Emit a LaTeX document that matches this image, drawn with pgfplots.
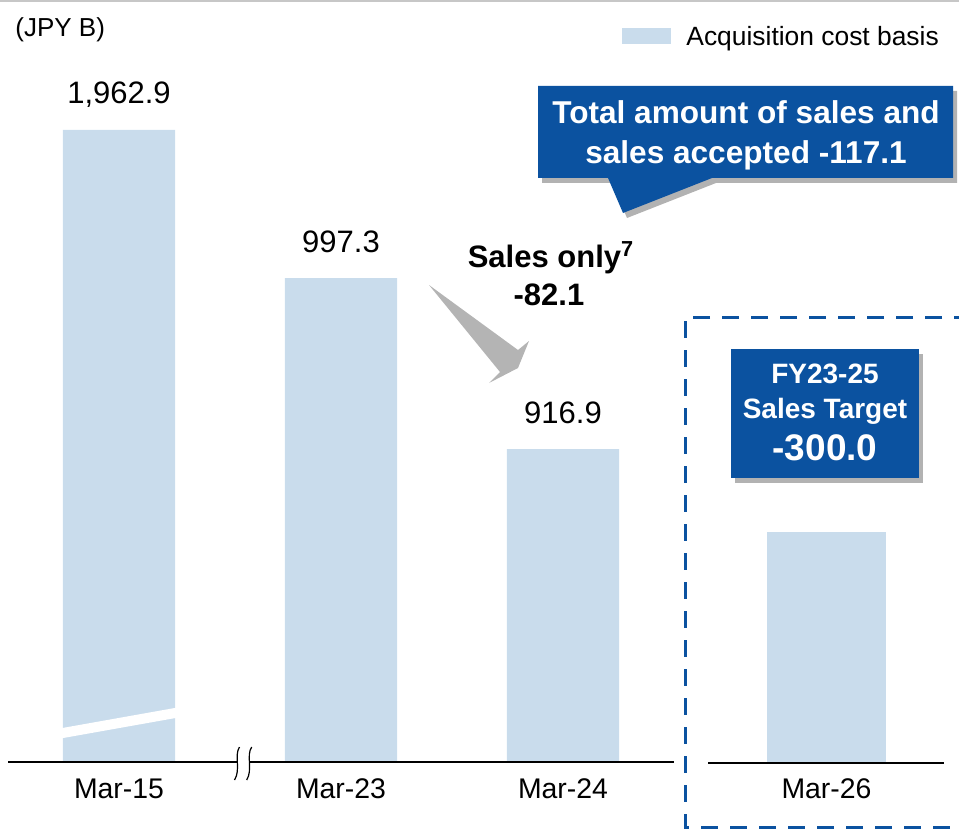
\documentclass[border=0pt]{standalone}
\usepackage{fontspec}
\setmainfont{Liberation Sans}
\usepackage{pgfplots}
\pgfplotsset{compat=1.18}
\usepackage{pgfplotstable}
\definecolor{barfill}{HTML}{C9DCEC}
\definecolor{navy}{HTML}{0B52A0}
\definecolor{arrowgray}{HTML}{B4B4B4}

% bars as drawn (Mar-15 bar is cut by an axis break)
\pgfplotstableread{
x y label
0 1066.9 1,962.9
1 997.3 997.3
2 916.9 916.9
}\actual
\pgfplotstableread{
x y
3.187 877.9
}\target

\begin{document}
\begin{tikzpicture}
\useasboundingbox (0,0) rectangle (479.5pt,-414.5pt);
\begin{axis}[
  at={(4pt,-381pt)}, anchor=south west,
  scale only axis, width=468.5pt, height=351pt,
  xmin=-0.5, xmax=3.7207, ymin=769.74, ymax=1099.8,
  axis line style={draw=none},
  ytick=\empty,
  xtick={0,1,2,3.187},
  xticklabels={Mar-15,Mar-23,Mar-24,Mar-26},
  major tick length=0pt,
  xticklabel style={anchor=base, yshift=-18pt, font=\fontsize{14.2pt}{16pt}\selectfont},
  legend image code/.code={\fill[barfill] (0pt,-3pt) rectangle (24.5pt,5pt);},
  legend style={draw=none, fill=none, at={(axis description cs:0.6553,1.032)}, anchor=west,
    inner sep=0pt, nodes={inner sep=0pt, font=\fontsize{13.2pt}{15pt}\selectfont},
    /tikz/every odd column/.append style={column sep=7.5pt}},
]
\addplot[ybar, bar width=0.505, bar shift=0pt, fill=barfill, draw=none,
  nodes near coords, point meta=explicit symbolic,
  nodes near coords style={anchor=base, yshift=13pt, inner sep=0pt,
    font=\fontsize{15.5pt}{18pt}\selectfont}]
  table[x=x, y=y, meta=label]{\actual};
\addlegendentry{Acquisition cost basis}
\addplot[ybar, bar width=0.536, bar shift=0pt, fill=barfill, draw=none, forget plot]
  table[x=x, y=y]{\target};
\end{axis}

\begin{scope}[x=0.5pt, y=-0.5pt]
  % top rule
  \draw[black!22, line width=1pt] (0,1) -- (959,1);
  % unit
  \node[anchor=base west, inner sep=0pt, font=\fontsize{13pt}{15pt}\selectfont] at (15,37) {(JPY B)};
  % baselines
  \draw[black, line width=1pt] (8,762) -- (674,762);
  \draw[black, line width=1pt] (708,763) -- (944,763);
  % break in the Mar-15 bar
  \draw[white, line width=5pt] (60,733.5) -- (178,712.5);
  % axis break mark
  \fill[white] (239.5,747) .. controls (234,755) and (241,770) .. (234.5,780) --
    (246.7,780) .. controls (253,770) and (246,755) .. (251.7,747) -- cycle;
  \draw[black, line width=0.6pt] (239.5,747) .. controls (234,755) and (241,770) .. (234.5,780);
  \draw[black, line width=0.6pt] (251.7,747) .. controls (246,755) and (253,770) .. (246.7,780);
  % target dashed frame
  \draw[navy, line width=1.5pt, dash pattern=on 8.5pt off 6pt] (1000,317) -- (685,317) -- (685,827) -- (1000,827);
  % grey arrow
  \fill[arrowgray] (429,285) -- (518,350) -- (529,341) -- (518,368) -- (489,383) -- (500,372) -- cycle;
  \node[anchor=base, inner sep=0pt, font=\bfseries\fontsize{15.5pt}{18pt}\selectfont] at (551,267) {Sales only\textsuperscript{7}};
  \node[anchor=base, inner sep=0pt, font=\bfseries\fontsize{15.5pt}{18pt}\selectfont] at (549,305) {-82.1};
  % callout
  \fill[black, opacity=0.3] (542,91) -- (957,91) -- (957,183) -- (716,183) -- (627,218) -- (612,183) -- (542,183) -- cycle;
  \fill[navy] (538,86) -- (953,86) -- (953,178) -- (712,178) -- (623,213) -- (608,178) -- (538,178) -- cycle;
  \node[anchor=base, inner sep=0pt, text=white, font=\bfseries\fontsize{15.8pt}{18pt}\selectfont] at (746,124) {Total amount of sales and};
  \node[anchor=base, inner sep=0pt, text=white, font=\bfseries\fontsize{15.8pt}{18pt}\selectfont] at (746,163) {sales accepted -117.1};
  % target box
  \fill[black, opacity=0.3] (735,354) rectangle (923,483);
  \fill[navy] (731,349) rectangle (919,478);
  \node[anchor=base, inner sep=0pt, text=white, font=\bfseries\fontsize{14pt}{16pt}\selectfont] at (825,383) {FY23-25};
  \node[anchor=base, inner sep=0pt, text=white, font=\bfseries\fontsize{14pt}{16pt}\selectfont] at (825,418) {Sales Target};
  \node[anchor=base, inner sep=0pt, text=white, font=\bfseries\fontsize{18.5pt}{20pt}\selectfont] at (825,460) {-300.0};
\end{scope}
\end{tikzpicture}
\end{document}
